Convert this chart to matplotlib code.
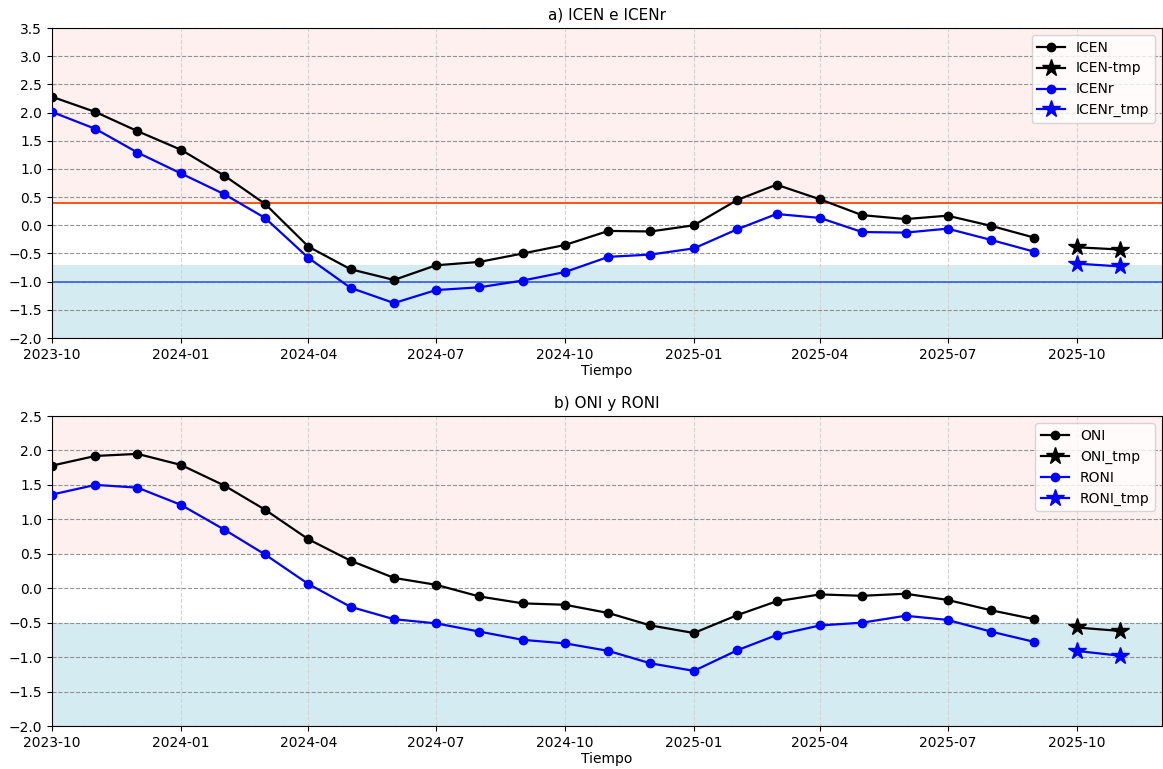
import matplotlib
matplotlib.use("Agg")
import matplotlib.pyplot as plt
import matplotlib.dates as mdates
import numpy as np
import pandas as pd

dates = pd.date_range("2023-10-01", "2025-09-01", freq="MS")
dates_tmp = pd.to_datetime(["2025-10-01", "2025-11-01"])

icen = [2.28, 2.01, 1.67, 1.34, 0.88, 0.38, -0.38, -0.78, -0.97, -0.71, -0.65, -0.50,
        -0.35, -0.10, -0.11, 0.00, 0.45, 0.72, 0.46, 0.18, 0.11, 0.17, -0.01, -0.22]
icen_tmp = [-0.39, -0.43]
icenr = [2.01, 1.71, 1.29, 0.92, 0.55, 0.13, -0.58, -1.11, -1.38, -1.15, -1.10, -0.98,
         -0.83, -0.56, -0.52, -0.41, -0.07, 0.20, 0.13, -0.12, -0.13, -0.06, -0.26, -0.47]
icenr_tmp = [-0.68, -0.73]

oni = [1.78, 1.92, 1.95, 1.79, 1.49, 1.14, 0.71, 0.40, 0.15, 0.05, -0.12, -0.22,
       -0.24, -0.36, -0.54, -0.65, -0.39, -0.19, -0.09, -0.11, -0.08, -0.17, -0.32, -0.45]
oni_tmp = [-0.57, -0.62]
roni = [1.36, 1.50, 1.46, 1.21, 0.85, 0.49, 0.06, -0.27, -0.45, -0.51, -0.63, -0.75,
        -0.80, -0.91, -1.09, -1.20, -0.90, -0.68, -0.54, -0.50, -0.40, -0.46, -0.63, -0.78]
roni_tmp = [-0.91, -0.98]

fig = plt.figure(figsize=(11.63, 7.69), dpi=100)
ax1 = fig.add_axes([52/1163, 1-338/769, 1110/1163, 310/769])
ax2 = fig.add_axes([52/1163, 1-726/769, 1110/1163, 310/769])

xmin = pd.Timestamp("2023-10-01")
xmax = pd.Timestamp("2025-12-01")


def style(ax, ylim, pink_lo, blue_hi, title, labels, series):
    ax.axhspan(pink_lo, ylim[1], color="red", alpha=0.06, lw=0, zorder=0)
    ax.axhspan(ylim[0], blue_hi, color="lightblue", alpha=0.5, lw=0, zorder=0)
    (a, a_t, b, b_t) = series
    ax.plot(dates, a, color="black", marker="o", ms=6, lw=1.6, label=labels[0], zorder=3)
    ax.plot(dates_tmp, a_t, color="black", marker="*", ms=13, lw=1.6, label=labels[1], zorder=3)
    ax.plot(dates, b, color="blue", marker="o", ms=6, lw=1.6, label=labels[2], zorder=3)
    ax.plot(dates_tmp, b_t, color="blue", marker="*", ms=13, lw=1.6, label=labels[3], zorder=3)
    ax.set_xlim(xmin, xmax)
    ax.set_ylim(*ylim)
    ax.set_yticks(np.arange(ylim[0], ylim[1] + 0.01, 0.5))
    ax.xaxis.set_major_locator(mdates.MonthLocator(bymonth=[1, 4, 7, 10]))
    ax.xaxis.set_major_formatter(mdates.DateFormatter("%Y-%m"))
    ax.grid(axis="y", color="gray", linestyle="--", lw=0.8, alpha=0.85)
    ax.grid(axis="x", color="lightgray", linestyle="--", lw=0.8)
    ax.set_axisbelow(True)
    ax.set_title(title, fontsize=11)
    ax.set_xlabel("Tiempo", fontsize=10, labelpad=2)
    ax.tick_params(labelsize=10)
    ax.legend(loc="upper right", fontsize=10)


style(ax1, (-2.0, 3.5), 0.4, -0.7, "a) ICEN e ICENr",
      ["ICEN", "ICEN-tmp", "ICENr", "ICENr_tmp"], (icen, icen_tmp, icenr, icenr_tmp))
ax1.axhline(0.4, color="orangered", lw=1.3, zorder=2)
ax1.axhline(-1.0, color="royalblue", lw=1.3, zorder=2)

style(ax2, (-2.0, 2.5), 0.5, -0.5, "b) ONI y RONI",
      ["ONI", "ONI_tmp", "RONI", "RONI_tmp"], (oni, oni_tmp, roni, roni_tmp))

fig.savefig("out.png", dpi=100)
